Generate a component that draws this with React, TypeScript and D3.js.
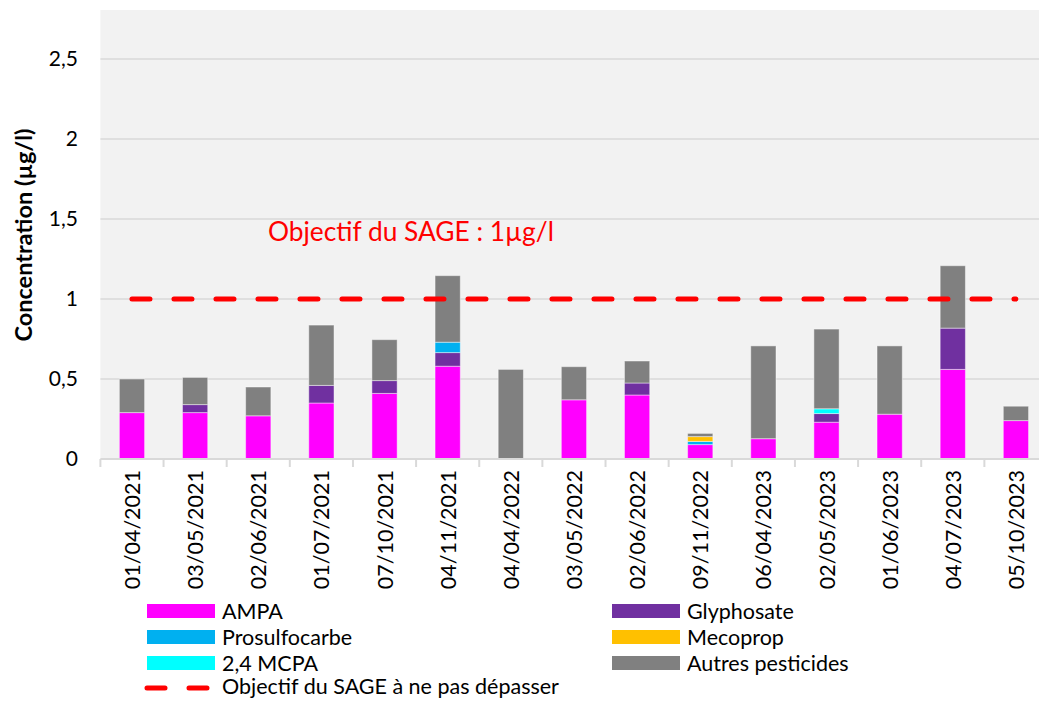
import React from "react";
import * as d3 from "d3";

const dates = [
  "01/04/2021", "03/05/2021", "02/06/2021", "01/07/2021", "07/10/2021",
  "04/11/2021", "04/04/2022", "03/05/2022", "02/06/2022", "09/11/2022",
  "06/04/2023", "02/05/2023", "01/06/2023", "04/07/2023", "05/10/2023",
];
const ampa = [0.29, 0.29, 0.27, 0.35, 0.41, 0.58, 0, 0.37, 0.40, 0.09, 0.127, 0.23, 0.28, 0.56, 0.24];
const glyphosate = [0, 0.05, 0, 0.11, 0.08, 0.085, 0, 0, 0.075, 0, 0, 0.054, 0, 0.258, 0];
const prosulfocarbe = [0, 0, 0, 0, 0, 0.065, 0, 0, 0, 0.02, 0, 0, 0, 0, 0];
const mecoprop = [0, 0, 0, 0, 0, 0, 0, 0, 0, 0.03, 0, 0, 0, 0, 0];
const mcpa = [0, 0, 0, 0, 0, 0, 0, 0, 0, 0, 0, 0.03, 0, 0, 0];
const autres = [0.21, 0.17, 0.18, 0.377, 0.256, 0.416, 0.56, 0.207, 0.1375, 0.02, 0.58, 0.498, 0.427, 0.39, 0.09];
const objectif = 1;
const yTicks = [0, 0.5, 1, 1.5, 2, 2.5];
const yTickLabels = ["0", "0,5", "1", "1,5", "2", "2,5"];

const seriesNames = ["AMPA", "Glyphosate", "Prosulfocarbe", "Mecoprop", "2,4 MCPA", "Autres pesticides"];
const seriesValues = [ampa, glyphosate, prosulfocarbe, mecoprop, mcpa, autres];
const seriesColors = ["#FF00FF", "#7030A0", "#00B0F0", "#FFC000", "#00FFFF", "#808080"];

const W = 1039;
const H = 701;
const FONT = "Lato, 'Open Sans', sans-serif";

export default function App() {
  const left = 100.4;
  const right = 1047.5;
  const top = 11;
  const bottom = 459;

  const x = d3.scaleBand<string>().domain(dates).range([left, right]).paddingInner(0.6).paddingOuter(0.3);
  const y = d3.scaleLinear().domain([0, 2.8]).range([bottom, top]);
  const step = x.step();

  const rows = dates.map((d, i) => {
    const r: any = { date: d };
    seriesNames.forEach((s, k) => (r[s] = seriesValues[k][i]));
    return r;
  });
  const stack = d3.stack<any>().keys(seriesNames)(rows);

  const cx = (d: string) => (x(d) as number) + x.bandwidth() / 2;
  const lineX1 = cx(dates[0]);
  const lineX2 = cx(dates[dates.length - 1]);

  const legendItems = [
    { i: 0, col: 0, row: 0 },
    { i: 1, col: 1, row: 0 },
    { i: 2, col: 0, row: 1 },
    { i: 3, col: 1, row: 1 },
    { i: 4, col: 0, row: 2 },
    { i: 5, col: 1, row: 2 },
  ];
  const colX = [147, 612];
  const rowY = [611, 637, 663, 688];

  return (
    <svg width={W} height={H} style={{ position: "absolute", left: 0, top: 0, background: "#fff" }} fontFamily={FONT}>
      <rect x={left} y={top - 1} width={W - left} height={bottom - top + 1} fill="#F2F2F2" />
      {yTicks.map((t, i) =>
        t === 0 ? null : (
          <line key={"g" + i} x1={left} x2={W} y1={y(t)} y2={y(t)} stroke="#D9D9D9" strokeWidth={1.5} />
        )
      )}
      {stack.map((layer, k) => (
        <g key={seriesNames[k]} fill={seriesColors[k]}>
          {layer.map((seg, i) =>
            seg[1] - seg[0] > 0 ? (
              <rect
                key={i}
                x={x(dates[i])}
                width={x.bandwidth()}
                y={y(seg[1])}
                height={y(seg[0]) - y(seg[1])}
                stroke="#ffffff"
                strokeOpacity={0.45}
                strokeWidth={1}
              />
            ) : null
          )}
        </g>
      ))}
      <line x1={left} x2={W} y1={bottom} y2={bottom} stroke="#D9D9D9" strokeWidth={2} />
      {dates.map((d, i) => (
        <line key={"t" + i} x1={left + i * step} x2={left + i * step} y1={bottom} y2={bottom + 8} stroke="#D9D9D9" strokeWidth={2} />
      ))}
      <line
        x1={lineX1}
        x2={lineX2}
        y1={y(objectif)}
        y2={y(objectif)}
        stroke="#FF0000"
        strokeWidth={5}
        strokeDasharray="18 24"
        strokeLinecap="round"
      />
      <text x={268} y={241} fill="#FF0000" fontSize={26.3}>
        Objectif du SAGE : 1µg/l
      </text>
      {yTicks.map((t, i) => (
        <text key={"yl" + i} x={78} y={y(t)} dy="0.35em" textAnchor="end" fontSize={21} fill="#000">
          {yTickLabels[i]}
        </text>
      ))}
      <text
        transform={`translate(32,235) rotate(-90)`}
        textAnchor="middle"
        fontSize={23.5}
        fontWeight="bold"
        fill="#000"
      >
        Concentration (µg/l)
      </text>
      {dates.map((d) => (
        <text
          key={"xl" + d}
          transform={`translate(${cx(d) + 8},${bottom + 11}) rotate(-90)`}
          textAnchor="end"
          fontSize={21.5}
          fill="#000"
        >
          {d}
        </text>
      ))}
      {legendItems.map(({ i, col, row }) => (
        <g key={"lg" + i}>
          <rect x={colX[col]} y={rowY[row] - 7} width={68} height={14} fill={seriesColors[i]} />
          <text x={colX[col] + 75} y={rowY[row]} dy="0.35em" fontSize={21.5} fill="#000">
            {seriesNames[i]}
          </text>
        </g>
      ))}
      <line x1={147} x2={210} y1={rowY[3]} y2={rowY[3]} stroke="#FF0000" strokeWidth={5} strokeDasharray="18 24" strokeLinecap="round" />
      <text x={222} y={rowY[3]} dy="0.3em" fontSize={21.5} fill="#000">
        Objectif du SAGE à ne pas dépasser
      </text>
    </svg>
  );
}
